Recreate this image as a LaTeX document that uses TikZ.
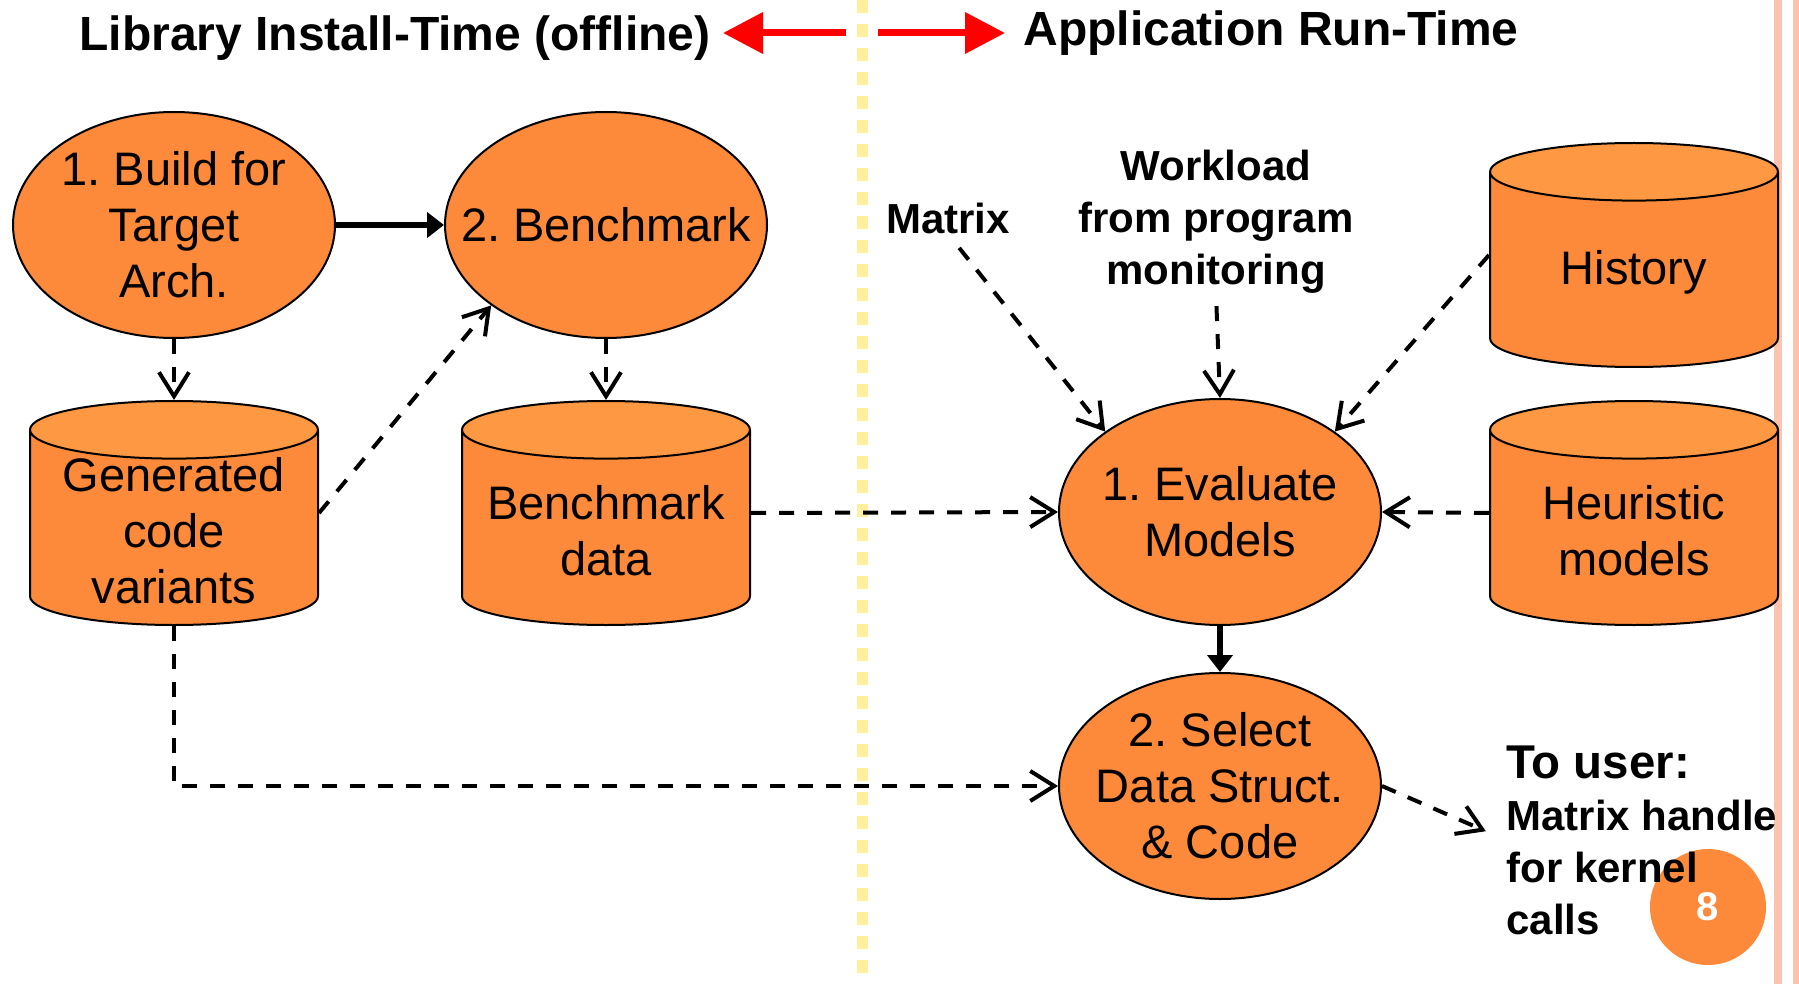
\documentclass[tikz,border=0pt]{standalone}
\usepackage{fontspec}
\setmainfont{Liberation Sans}
\usetikzlibrary{shapes.geometric,arrows.meta}
\definecolor{boxorange}{HTML}{FD8A3A}
\definecolor{toporange}{HTML}{FE9842}
\definecolor{sepyellow}{HTML}{FFF0A0}
\definecolor{edgepink}{HTML}{FCC4B0}
\frenchspacing
\begin{document}
\begin{tikzpicture}[x=0.5pt,y=-0.5pt,
    nodetext/.style={align=center, inner sep=0pt, font=\fontsize{23.5}{28}\selectfont},
    proc/.style={ellipse, draw, line width=1pt, fill=boxorange, minimum width=161pt,
      minimum height=113pt, inner sep=0pt, label={[nodetext]center:#1}},
    store/.style={cylinder, shape border rotate=90, draw, line width=1pt, aspect=0.2,
      cylinder uses custom fill, cylinder body fill=boxorange, cylinder end fill=toporange,
      minimum width=144pt, minimum height=112pt, inner xsep=72pt, inner ysep=0pt,
      anchor=shape center, label={[nodetext, yshift=6pt]center:#1}},
    hdr/.style={inner sep=0pt, font=\bfseries\fontsize{24}{28}\selectfont},
    lbl/.style={inner sep=0pt, font=\bfseries\fontsize{21}{26}\selectfont},
    ctrl/.style={line width=2.8pt, -{Triangle[length=8.5pt,width=12.5pt]}},
    flow/.style={line width=2pt, dash pattern=on 7.5pt off 6.5pt,
      -{Straight Barb[length=12pt,width=15pt]}},
    side/.style={red, line width=3.5pt, -{Triangle[length=20pt,width=20pt]}}]
  \fill[white] (0,0) rectangle (1799,984);
  \useasboundingbox (0,0) rectangle (1799,984);
  \draw[sepyellow, line width=5.5pt, dash pattern=on 6.5pt off 5.5pt] (862,0) -- (862,984);
  \fill[edgepink] (1774,0) rectangle (1782,984);
  \fill[edgepink] (1793,0) rectangle (1799,984);

  \node[hdr, anchor=west] (lib) at (79,38) {Library Install-Time (offline)};
  \node[hdr, anchor=west] (app) at (1023,33) {Application Run-Time};
  \coordinate (lsplit) at (846,33);
  \coordinate (rsplit) at (878,33);
  \draw[side, shorten >=6pt] (lsplit) -- (lsplit -| lib.east);
  \draw[side, shorten >=9pt] (rsplit) -- (rsplit -| app.west);

  \node[proc={1. Build for\\Target\\Arch.}] (build) at (174,225) {};
  \node[proc={2. Benchmark}] (bench) at (606,225) {};
  \node[store={Generated\\code\\variants}] (gen) at (174,513) {};
  \node[store={Benchmark\\data}] (bdata) at (606,513) {};
  \node[proc={1. Evaluate\\Models}] (eval) at (1220,512) {};
  \node[proc={2. Select\\Data Struct.\\\& Code}] (select) at (1220,786) {};
  \node[store={History}] (history) at (1634,255) {};
  \node[store={Heuristic\\models}] (heur) at (1634,513) {};
  \node[lbl] (matrix) at (948,218) {Matrix};
  \node[lbl, align=center] (workload) at (1216,222) {Workload\\from program\\monitoring};

  \node[circle, fill=boxorange, minimum size=58pt, inner sep=0pt, text=white,
    font=\bfseries\fontsize{20}{24}\selectfont] (pagenum) at (1708,907) {\raisebox{-2pt}{8}};
  \node[lbl, anchor=west, align=left] (user) at (1506,840)
    {{\fontsize{23.7}{27}\selectfont To user:}\\Matrix handle\\for kernel\\calls};

  \draw[ctrl] (build) -- (bench);
  \draw[ctrl] (eval) -- (select);
  \begin{scope}[flow]
    \draw (build) -- (gen);
    \draw (gen.east |- gen.shape center) -- (bench.215);
    \draw (bench) -- (bdata);
    \draw (bdata.east |- bdata.shape center) -- (eval.west);
    \draw (gen) |- (select);
    \draw[shorten <=9pt] (matrix.south) -- (eval.145);
    \draw[shorten <=6pt] (workload.south) -- (eval.north);
    \draw (history.west |- history.shape center) -- (eval.35);
    \draw (heur.west |- heur.shape center) -- (eval.east);
    \draw[shorten >=11pt] (select.east) -- (user.west);
  \end{scope}
\end{tikzpicture}
\end{document}
